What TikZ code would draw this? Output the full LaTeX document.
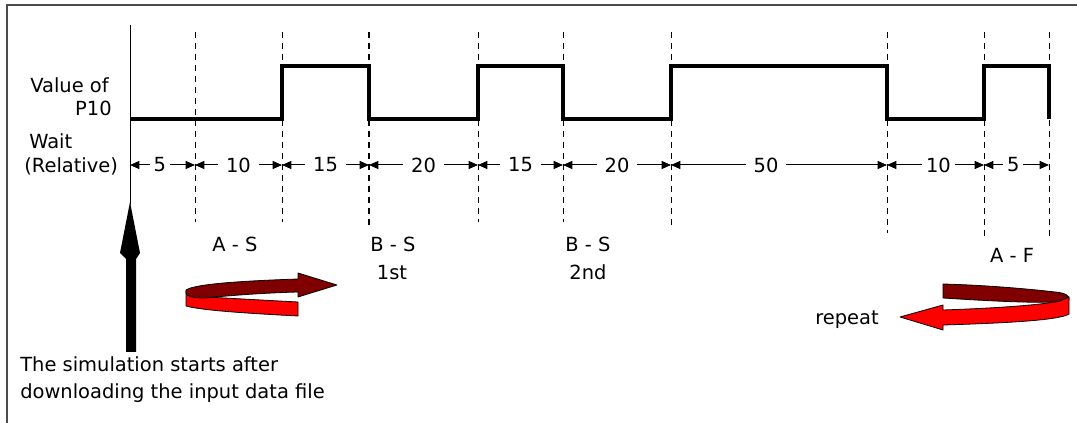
\documentclass[tikz,border=0pt]{standalone}
\usepackage{fontspec}
\setmainfont{DejaVu Sans}
\usetikzlibrary{arrows.meta}
\definecolor{darkred}{HTML}{800000}
\definecolor{brightred}{HTML}{FF0000}
\begin{document}
\begin{tikzpicture}[x=0.75pt,y=-0.75pt,
  lbl/.style={font=\fontsize{14.6}{16}\selectfont, inner sep=0pt},
  sig/.style={line width=2.4pt, line join=miter},
  gridline/.style={line width=0.75pt, dash pattern=on 4.5pt off 3.75pt},
  dim/.style={line width=0.75pt, {Triangle[length=7pt,width=6pt]}-{Triangle[length=7pt,width=6pt]}},
  num/.style={lbl, fill=white, inner xsep=6pt, inner ysep=1pt},
  ribbon/.style={draw=black, line width=0.6pt, line join=round}]
\useasboundingbox (0,0) rectangle (1077,423);
% partial frame
\draw[gray!60!black, line width=1.5pt] (7,423) -- (7,5) -- (1077,5);

% boundary coordinates
\foreach \n/\x/\b in {0/130/205, 1/195/222, 2/282/222, 3/369/225, 4/478/222, 5/563/222, 6/671/226, 7/887/233, 8/984/240, 9/1049/240}{
  \coordinate (t\n) at (\x,32);
  \coordinate (e\n) at (\x,\b);
  \coordinate (d\n) at (\x,165);
}
% dashed grid lines
\foreach \n in {1,2,4,5,6,7,8,9}{ \draw[gridline] (t\n) -- (e\n); }
\draw[gridline, line width=1.5pt] (t3) -- (e3);

% axis line
\coordinate (axtop) at (130,25);
\coordinate (axbot) at (130,205);
\draw[line width=0.75pt] (axtop) -- (axbot);

% waveform
\draw[sig] (130,119) -- (282,119) -- (282,66) -- (369,66) -- (369,119) -- (478,119) -- (478,66)
  -- (563,66) -- (563,119) -- (671,119) -- (671,66) -- (887,66) -- (887,119) -- (984,119)
  -- (984,66) -- (1049,66) -- (1049,119);

% dimension arrows
\draw[dim] (d0) -- node[num, pos=0.46, inner xsep=3pt] (n1) {5} (d1);
\draw[dim] (d1) -- node[num] (n2) {10} (d2);
\draw[dim] (d2) -- node[num] (n3) {15} (d3);
\draw[dim] (d3) -- node[num] (n4) {20} (d4);
\draw[dim] (d4) -- node[num] (n5) {15} (d5);
\draw[dim] (d5) -- node[num] (n6) {20} (d6);
\draw[dim] (d6) -- node[num, pos=0.44] (n7) {50} (d7);
\draw[dim] (d7) -- node[num, pos=0.53, inner xsep=3pt] (n8) {10} (d8);
\draw[dim] (d8) -- node[num, pos=0.45, inner xsep=3pt] (n9) {5} (d9);

% left labels
\node[lbl, anchor=base east] (val) at (109,93) {Value of};
\node[lbl, anchor=base east] (p10) at (112,116) {P10};
\node[lbl, anchor=base west] (wait) at (29,149) {Wait};
\node[lbl, anchor=base west] (rel) at (24,173) {(Relative)};

% event labels
\node[lbl, anchor=base] (as) at (235,252) {A - S};
\node[lbl, anchor=base] (bs1) at (393,252) {B - S};
\node[lbl, anchor=base] (first) at (392,280) {1st};
\node[lbl, anchor=base] (bs2) at (588,252) {B - S};
\node[lbl, anchor=base] (second) at (588,280) {2nd};
\node[lbl, anchor=base] (af) at (1012,263) {A - F};
\node[lbl, anchor=base] (rep) at (847,325) {repeat};

% start arrow
\fill (130,202) -- (140,253) -- (136,259) -- (136,352) -- (126,352) -- (126,259) -- (120,253) -- cycle;
\node[lbl, anchor=base west] (start1) at (20,372) {The simulation starts after};
\node[lbl, anchor=base west] (start2) at (20,399) {downloading the input data file};

% left ribbon arrow
\filldraw[ribbon, fill=brightred] (186,291) -- (186,306) .. controls (200,310) and (240,313) .. (298,316)
  -- (298,302) .. controls (260,300) and (225,298) .. (205,297) -- cycle;
\filldraw[ribbon, fill=darkred] (186,290) .. controls (195,284) and (240,281) .. (298,279)
  -- (298,273) -- (337,285) -- (298,297) -- (298,292) .. controls (260,293) and (225,296) .. (205,298)
  .. controls (192,298) and (186,296) .. (186,293) -- cycle;

% right ribbon arrow
\filldraw[ribbon, fill=darkred] (943,284) -- (943,298) .. controls (990,301) and (1030,303) .. (1055,302)
  -- (1069,300) .. controls (1070,296) and (1066,293) .. (1055,292) .. controls (1020,288) and (980,285) .. (943,284) -- cycle;
\filldraw[ribbon, fill=brightred] (1069,297) -- (1069,314) .. controls (1060,320) and (1010,323) .. (943,325)
  -- (943,330) -- (900,317) -- (943,305) -- (943,310) .. controls (1000,308) and (1040,305) .. (1060,301) -- cycle;
\end{tikzpicture}
\end{document}
